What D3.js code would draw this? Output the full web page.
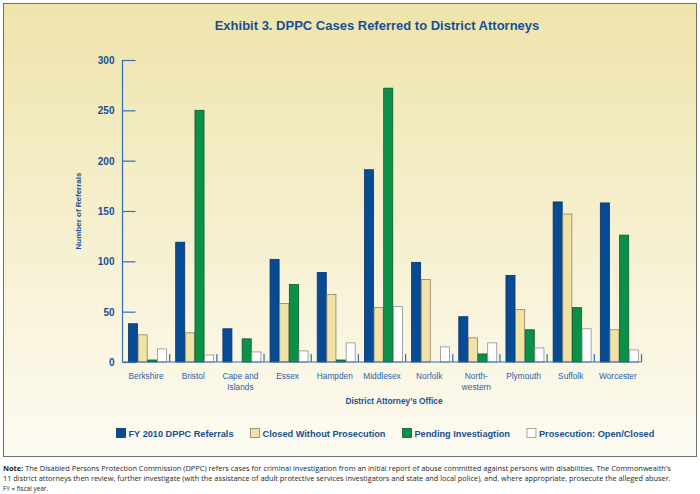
<!DOCTYPE html>
<html>
<head>
<meta charset="utf-8">
<script src="https://cdn.jsdelivr.net/npm/d3@7"></script>
<style>
  body { margin: 0; background: #fff; }
  svg { display: block; }
</style>
</head>
<body>
<svg id="chart" width="700" height="494"></svg>
<script>
// district attorney offices (\n = line break in the label)
const offices = ['Berkshire', 'Bristol', 'Cape and\nIslands', 'Essex', 'Hampden', 'Middlesex',
  'Norfolk', 'North-\nwestern', 'Plymouth', 'Suffolk', 'Worcester'];
const seriesNames = ['FY 2010 DPPC Referrals', 'Closed Without Prosecution',
  'Pending Investiagtion', 'Prosecution: Open/Closed'];
const referrals   = [38, 119, 33, 102, 89, 191, 99, 45, 86, 159, 158];
const closedNoPro = [27, 29, 0, 58, 67, 54, 82, 24, 52, 147, 32];
const pending     = [2, 250, 23, 77, 2, 272, 0, 8, 32, 54, 126];
const prosecution = [13, 7, 10, 11, 19, 55, 15, 19, 14, 33, 12];
const yTicks = [0, 50, 100, 150, 200, 250, 300];
const noteLines = [
  ['Note:', ' The Disabled Persons Protection Commission (DPPC) refers cases for criminal investigation from an initial report of abuse committed against persons with disabilities. The Commonwealth\u2019s'],
  ['', '11 district attorneys then review, further investigate (with the assistance of adult protective services investigators and state and local police), and, where appropriate, prosecute the alleged abuser.'],
  ['', 'FY = fiscal year.']
];

const allSeries = [referrals, closedNoPro, pending, prosecution];
const fills   = ['#064b93', '#f1e3a8', '#0a9047', '#ffffff'];
const strokes = ['#06336a', '#8c8266', '#0b5a2c', '#8f8f8f'];
const blue = '#174f95';

const svg = d3.select('#chart');
const defs = svg.append('defs');
const grad = defs.append('linearGradient').attr('id', 'bg')
  .attr('x1', 0).attr('y1', 0).attr('x2', 0).attr('y2', 1);
grad.append('stop').attr('offset', '0%').attr('stop-color', '#efe4ac');
grad.append('stop').attr('offset', '100%').attr('stop-color', '#fdfbf2');

// frame
svg.append('rect')
  .attr('x', 3.5).attr('y', 3.5).attr('width', 693).attr('height', 453)
  .attr('fill', 'url(#bg)').attr('stroke', '#6f6f6f').attr('stroke-width', 1);

svg.append('text')
  .attr('x', 377).attr('y', 30)
  .attr('text-anchor', 'middle')
  .style('font', 'bold 13px "Liberation Sans", Arial, sans-serif')
  .attr('fill', blue)
  .text('Exhibit 3. DPPC Cases Referred to District Attorneys');

let plotLeft = 122.5, plotRight = 641.5, plotTop = 60, plotBottom = 362;

let xScale = d3.scaleBand()
  .domain(offices)
  .range([plotLeft, plotRight])
  .padding(0);

let inner = d3.scaleBand()
  .domain(d3.range(allSeries.length))
  .range([6, 44])
  .paddingInner(0.06);

let yScale = d3.scaleLinear()
  .domain([0, 300])
  .range([plotBottom, plotTop]);

// bars
let groups = svg.append('g').selectAll('g')
  .data(offices)
  .enter()
  .append('g')
  .attr('transform', d => `translate(${xScale(d)},0)`);

groups.selectAll('rect')
  .data((d, i) => allSeries.map((s, k) => ({k: k, v: s[i]})))
  .enter()
  .append('rect')
  .attr('x', d => inner(d.k))
  .attr('width', inner.bandwidth())
  .attr('y', d => yScale(d.v))
  .attr('height', d => plotBottom - yScale(d.v))
  .attr('fill', d => fills[d.k])
  .attr('stroke', d => strokes[d.k])
  .attr('stroke-width', 0.8);

// y axis: ticks point inward, labels on the left
let yAxis = d3.axisRight(yScale)
  .tickValues(yTicks)
  .tickSize(13)
  .tickFormat(d3.format('d'));
let yg = svg.append('g')
  .attr('transform', `translate(${plotLeft},0)`)
  .call(yAxis);
yg.select('.domain').attr('stroke', '#2f6fb2').attr('stroke-width', 1.2)
  .attr('d', `M0,${plotTop}V${plotBottom}`);
yg.selectAll('.tick line').attr('stroke', '#2f6fb2').attr('stroke-width', 1.2);
yg.selectAll('.tick text')
  .attr('x', -8).attr('dy', '0.35em')
  .attr('text-anchor', 'end')
  .attr('fill', blue)
  .style('font', 'bold 10px "Liberation Sans", Arial, sans-serif');

// x axis: small ticks at group boundaries
let xg = svg.append('g').attr('transform', `translate(0,${plotBottom})`);
xg.append('line')
  .attr('x1', plotLeft).attr('x2', plotRight)
  .attr('stroke', '#2f6fb2').attr('stroke-width', 1.2);
xg.selectAll('line.sep')
  .data(offices)
  .enter()
  .append('line')
  .attr('class', 'sep')
  .attr('x1', d => xScale(d) + xScale.bandwidth())
  .attr('x2', d => xScale(d) + xScale.bandwidth())
  .attr('y1', 0).attr('y2', -8)
  .attr('stroke', '#2f6fb2').attr('stroke-width', 1.2);

let xl = xg.selectAll('text.lab')
  .data(offices)
  .enter()
  .append('text')
  .attr('class', 'lab')
  .attr('text-anchor', 'middle')
  .attr('fill', '#2462a8')
  .style('font', '8.3px "Liberation Sans", Arial, sans-serif');
xl.each(function(d) {
  let cx = xScale(d) + xScale.bandwidth() / 2;
  d.split('\n').forEach((line, i) => {
    d3.select(this).append('tspan')
      .attr('x', cx).attr('y', 17 + i * 10.5)
      .text(line);
  });
});

svg.append('text')
  .attr('x', 394).attr('y', 404)
  .attr('text-anchor', 'middle')
  .attr('fill', blue)
  .style('font', 'bold 8.3px "Liberation Sans", Arial, sans-serif')
  .text('District Attorney\u2019s Office');

svg.append('text')
  .attr('transform', 'translate(81,211) rotate(-90)')
  .attr('text-anchor', 'middle')
  .attr('fill', blue)
  .style('font', 'bold 8px "Liberation Sans", Arial, sans-serif')
  .text('Number of Referrals');

// legend
let lx = 116;
seriesNames.forEach((name, k) => {
  let g = svg.append('g').attr('transform', `translate(${lx},428)`);
  g.append('rect')
    .attr('x', 0.5).attr('y', 0.5).attr('width', 9).attr('height', 9)
    .attr('fill', fills[k]).attr('stroke', strokes[k]).attr('stroke-width', 0.8);
  let t = g.append('text')
    .attr('x', 12.5).attr('y', 8.6)
    .attr('fill', blue)
    .style('font', 'bold 9.2px "Liberation Sans", Arial, sans-serif')
    .text(name);
  lx += 12.5 + t.node().getComputedTextLength() + 16.5;
});

// note below the frame, squeezed horizontally to the frame width
let noteWidth = 668;
noteLines.forEach((parts, i) => {
  let g = svg.append('g');
  let t = g.append('text')
    .attr('x', 0).attr('y', 0)
    .attr('fill', '#231f20')
    .style('font', '7.8px "Open Sans", "Noto Sans", sans-serif');
  if (parts[0]) t.append('tspan').style('font-weight', 'bold').text(parts[0]);
  t.append('tspan').text(parts[1]);
  let w = t.node().getComputedTextLength();
  let sx = i < 2 ? noteWidth / w : 0.82;
  g.attr('transform', `translate(3,${471 + i * 10}) scale(${sx},1)`);
});
</script>
</body>
</html>
